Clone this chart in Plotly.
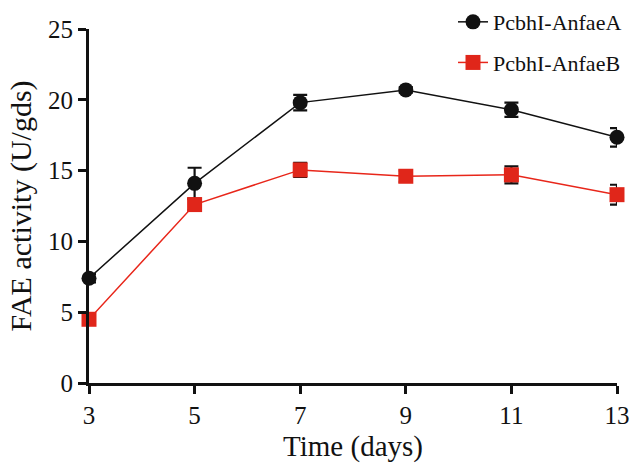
import plotly.graph_objects as go

days = [3, 5, 7, 9, 11, 13]
anfaeA = [7.4, 14.1, 19.8, 20.7, 19.3, 17.35]
anfaeA_err = [0.3, 1.1, 0.55, 0.2, 0.5, 0.65]
anfaeB = [4.5, 12.6, 15.05, 14.6, 14.7, 13.3]
anfaeB_err = [0.3, 0.4, 0.5, 0.4, 0.6, 0.7]
x_ticks = [3, 5, 7, 9, 11, 13]
y_ticks = [0, 5, 10, 15, 20, 25]

FONT = "Liberation Serif, Times New Roman, serif"

fig = go.Figure()
fig.add_trace(go.Scatter(
    x=days, y=anfaeA, name="PcbhI-AnfaeA", mode="lines+markers",
    legendgroup="a",
    line=dict(color="#111111", width=1.5),
    marker=dict(symbol="circle", size=15, color="#111111"),
    error_y=dict(type="data", array=anfaeA_err, color="#111111", thickness=2.2, width=7),
    cliponaxis=False,
))
fig.add_trace(go.Scatter(
    x=days, y=anfaeB, name="PcbhI-AnfaeB", mode="lines+markers",
    legendgroup="b",
    line=dict(color="#e8261a", width=1.5),
    marker=dict(symbol="square", size=15, color="#e0261a"),
    error_y=dict(type="data", array=anfaeB_err, color="#111111", thickness=2.2, width=7),
    cliponaxis=False,
))

fig.update_layout(
    width=630, height=463,
    margin=dict(l=89, r=13, t=29, b=80, autoexpand=False),
    plot_bgcolor="white", paper_bgcolor="white",
    font=dict(family=FONT, color="#111111"),
    showlegend=True,
    legend=dict(x=0.6894, y=1.079, xanchor="left", yanchor="top",
                font=dict(family=FONT, size=22, color="#111111"),
                bgcolor="rgba(0,0,0,0)", tracegroupgap=9),
    xaxis=dict(range=[3, 13], tickvals=x_ticks, ticks="outside", ticklen=8, tickwidth=3,
               tickcolor="#111111", showline=True, linewidth=3, linecolor="#111111",
               showgrid=False, zeroline=False, tickfont=dict(size=25, family=FONT),
               title=dict(text="Time (days)", font=dict(size=29, family=FONT), standoff=9)),
    yaxis=dict(range=[0, 25], tickvals=y_ticks, ticks="outside", ticklen=8, tickwidth=3,
               tickcolor="#111111", showline=True, linewidth=3, linecolor="#111111",
               showgrid=False, zeroline=False, tickfont=dict(size=25, family=FONT),
               title=dict(text="FAE activity (U/gds)", font=dict(size=30, family=FONT), standoff=8)),
)

fig.write_html("out.html",
               config={"displayModeBar": False},
               post_script="document.body.style.margin='0';document.body.style.overflow='hidden';")
